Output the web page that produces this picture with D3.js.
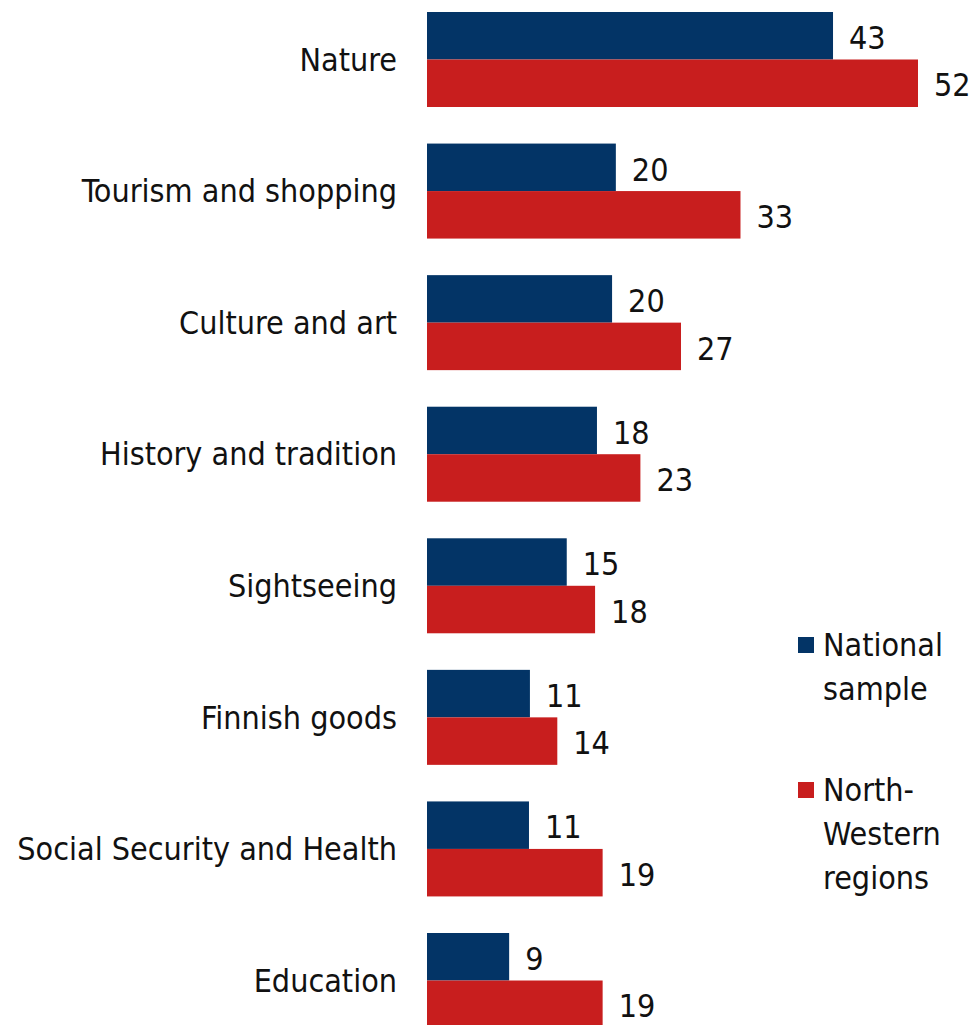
<!DOCTYPE html>
<html><head><meta charset="utf-8">
<script src="https://cdn.jsdelivr.net/npm/d3@7"></script>
<style>body{margin:0;background:#fff}svg text{font-family:"Liberation Sans Narrow","DejaVu Sans Condensed",sans-serif;fill:#111}</style>
</head><body><svg id="c" width="971" height="1025"></svg>
<script>
const categories = ["Nature","Tourism and shopping","Culture and art","History and tradition","Sightseeing","Finnish goods","Social Security and Health","Education"];
const seriesNames = ["National sample","North-Western regions"];
const national = [43,20,19.6,18,14.8,10.9,10.8,8.7];
const northWestern = [52,33.2,26.9,22.6,17.8,13.8,18.6,18.6];
const colors = ["#033466","#c81e1e"];
const legendLines = [["National","sample"],["North-","Western","regions"]];

const svg = d3.select("#c");
const x = d3.scaleLinear().domain([0,52]).range([427,918]);
const y = d3.scaleBand().domain(categories).range([12,1028]).paddingInner(0.278).paddingOuter(0);
const sub = d3.scaleBand().domain([0,1]).range([0,y.bandwidth()]);
const series = [national, northWestern];
const fs = 32;
const fmt = d3.format(".0f");

series.forEach((vals,si)=>{
  const g = svg.append("g");
  g.selectAll("rect").data(categories).join("rect")
    .attr("x", x(0)).attr("y", c=>y(c)+sub(si))
    .attr("width", (c,i)=>x(vals[i])-x(0)).attr("height", sub.bandwidth())
    .attr("fill", colors[si]);
  g.selectAll("text").data(categories).join("text")
    .attr("x", (c,i)=>x(vals[i])+16).attr("y", c=>y(c)+sub(si)+sub.bandwidth()/2+2)
    .attr("dy","0.35em").attr("font-size",fs).text((c,i)=>fmt(vals[i]));
});

svg.append("g").selectAll("text").data(categories).join("text")
  .attr("x",397).attr("y",c=>y(c)+y.bandwidth()/2).attr("dy","0.35em")
  .attr("text-anchor","end").attr("font-size",fs).text(c=>c);

const legY = [645, 790];
legendLines.forEach((lines,i)=>{
  const g = svg.append("g");
  g.append("rect").attr("x",798).attr("y",legY[i]-8).attr("width",16).attr("height",16).attr("fill",colors[i]);
  lines.forEach((t,j)=>g.append("text").attr("x",823).attr("y",legY[i]+j*44).attr("dy","0.35em").attr("font-size",fs).text(t));
});
</script></body></html>
